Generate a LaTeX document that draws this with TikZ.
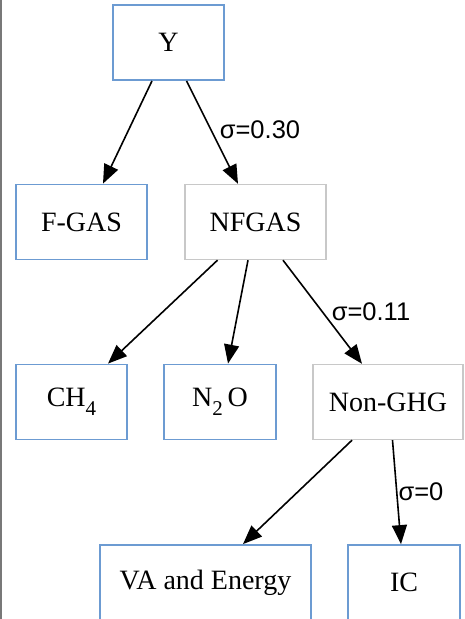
\documentclass[tikz,border=0pt]{standalone}
\usepackage{fontspec}
\setmainfont{Liberation Serif}
\setsansfont{Liberation Sans}
\usetikzlibrary{arrows.meta,calc}
\definecolor{boxblue}{RGB}{108,155,210}
\definecolor{boxgray}{RGB}{200,200,200}
\definecolor{edgegray}{RGB}{120,120,120}
\newcommand{\lowidx}[1]{\raisebox{-0.32em}{\fontsize{21}{21}\selectfont #1}}
\tikzset{
  leaf/.style={draw=boxblue, line width=1.8pt, fill=white, inner sep=0pt,
    minimum height=75pt, font=\fontsize{28}{30}\selectfont},
  inner/.style={draw=boxgray, line width=1.4pt, fill=white, inner sep=0pt,
    minimum height=75pt, font=\fontsize{28}{30}\selectfont},
  link/.style={line width=1.6pt, black,
    -{Triangle[length=19pt,width=15pt]}},
  sigma/.style={font=\sffamily\fontsize{25.5}{30}\selectfont, inner sep=0pt}
}
\begin{document}
\begin{tikzpicture}[x=1pt,y=-1pt]
\useasboundingbox (0,0) rectangle (464,619);
\fill[white] (0,0) rectangle (464,619);
\begin{scope}
\clip (0,0) rectangle (464,619);
% tree nodes
\node[leaf, minimum width=111pt] (Y) at (168.5,42.5) {Y};
\node[leaf, minimum width=131pt] (FGAS) at (81.5,222) {F-GAS};
\node[inner, minimum width=141pt] (NFGAS) at (255.5,222) {NFGAS};
\node[leaf, minimum width=111pt] (CH4) at (71.5,402) {CH\lowidx{4}};
\node[leaf, minimum width=112pt] (N2O) at (220,402) {N\lowidx{2}\,O};
\node[inner, minimum width=150pt] (NGHG) at (388,402) {Non-GHG};
\node[leaf, minimum width=211pt] (VA) at (205.5,582.5) {VA and Energy};
\node[leaf, minimum width=112pt] (IC) at (404,582.5) {IC};
% connectors
\draw[link] ($(Y.south)+(-16.5,0)$) -- ($(FGAS.north)+(21.5,0)$);
\draw[link] ($(Y.south)+(18,0)$) -- ($(NFGAS.north)+(-17.5,0)$);
\draw[link] ($(NFGAS.south)+(-38,0)$) -- ($(CH4.north)+(36.5,0)$);
\draw[link] ($(NFGAS.south)+(-7.5,0)$) -- ($(N2O.north)+(8,0)$);
\draw[link] ($(NFGAS.south)+(27.5,0)$) -- ($(NGHG.north)+(-26,0)$);
\draw[link] ($(NGHG.south)+(-36,0)$) -- ($(VA.north)+(37.5,0)$);
\draw[link] ($(NGHG.south)+(4.5,0)$) -- ($(IC.north)+(-3,0)$);
% edge labels
\node[sigma] (s1) at (260,130) {σ=0.30};
\node[sigma] (s2) at (371,312) {σ=0.11};
\node[sigma] (s3) at (421,492) {σ=0};
% frame line on the left
\draw[edgegray, line width=1.6pt] (1,0) -- (1,619);
\end{scope}
\end{tikzpicture}
\end{document}
